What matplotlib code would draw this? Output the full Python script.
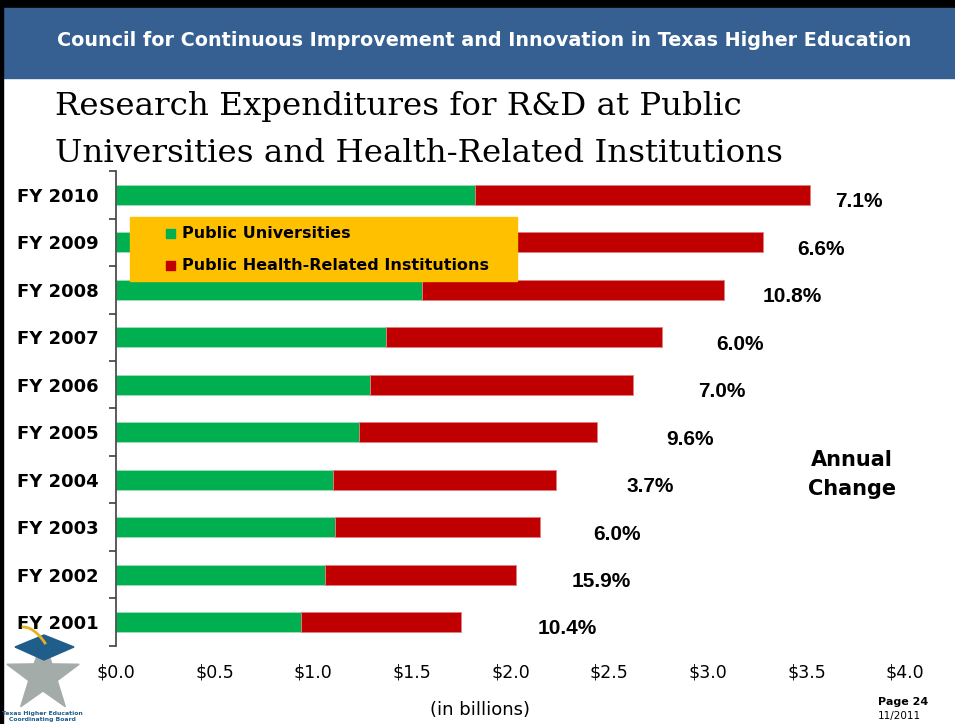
import matplotlib
matplotlib.use("Agg")
import matplotlib.pyplot as plt
from matplotlib.patches import Rectangle, Polygon
import numpy as np

# ---- data ----
years = ["FY 2010", "FY 2009", "FY 2008", "FY 2007", "FY 2006",
         "FY 2005", "FY 2004", "FY 2003", "FY 2002", "FY 2001"]
public_univ = [1.82, 1.70, 1.55, 1.37, 1.29, 1.23, 1.10, 1.11, 1.06, 0.94]
health_related = [1.70, 1.58, 1.53, 1.40, 1.33, 1.21, 1.13, 1.04, 0.97, 0.81]
annual_change = ["7.1%", "6.6%", "10.8%", "6.0%", "7.0%",
                 "9.6%", "3.7%", "6.0%", "15.9%", "10.4%"]
xticks = [0.0, 0.5, 1.0, 1.5, 2.0, 2.5, 3.0, 3.5, 4.0]
xtick_labels = ["$0.0", "$0.5", "$1.0", "$1.5", "$2.0", "$2.5", "$3.0", "$3.5", "$4.0"]

# label gap (pixels) from bar end, layout only
label_gap_px = [25, 34, 39, 54, 65, 69, 71, 53, 55, 76]

GREEN = "#00B050"
RED = "#C00000"
ORANGE = "#FFC000"
BLUE = "#366092"

W, H = 955, 724
fig = plt.figure(figsize=(W / 100, H / 100), dpi=100)
fig.patch.set_facecolor("white")

# chart axes
ax = fig.add_axes([116 / W, 1 - 645.7 / H, (905 - 116) / W, (645.7 - 171.3) / H])
ax.set_facecolor("none")
n = len(years)
ypos = np.arange(n)
ax.barh(ypos, public_univ, height=0.42, color=GREEN, edgecolor="#9FDFB8", linewidth=0.6, zorder=2)
ax.barh(ypos, health_related, left=public_univ, height=0.42, color=RED, edgecolor="#E08080", linewidth=0.6, zorder=2)
ax.set_ylim(n - 0.5, -0.5)
ax.set_xlim(0, 4.0)

for s in ["top", "right", "bottom"]:
    ax.spines[s].set_visible(False)
ax.spines["left"].set_color("#404040")
ax.spines["left"].set_linewidth(1.2)

ax.set_yticks(ypos)
ax.set_yticklabels(years, fontsize=13, fontweight="bold", family="DejaVu Sans", ha="left")
ax.tick_params(axis="y", which="major", length=0, pad=71)
ax.set_yticks(np.arange(-0.5, n, 1.0), minor=True)
ax.tick_params(axis="y", which="minor", length=5, width=1.2, color="#404040")

ax.set_xticks(xticks)
ax.set_xticklabels(xtick_labels, fontsize=12.5, family="DejaVu Sans")
ax.tick_params(axis="x", length=0, pad=13)

for i in range(n):
    total = public_univ[i] + health_related[i]
    ax.annotate(annual_change[i], xy=(total, ypos[i]), xytext=(label_gap_px[i] * 0.72, -5),
                textcoords="offset points", ha="left", va="center",
                fontsize=15, fontweight="bold", fontstretch="condensed",
                family=["Liberation Sans Narrow", "Liberation Sans", "DejaVu Sans"],
                color="black", zorder=3)

# overlay axes in pixel coordinates for slide decorations
ov = fig.add_axes([0, 0, 1, 1])
ov.set_xlim(0, W)
ov.set_ylim(H, 0)
ov.axis("off")
ov.set_zorder(5)

# header band and borders
ov.add_patch(Rectangle((0, 0), W, 8, color="black"))
ov.add_patch(Rectangle((0, 8), W, 70, color=BLUE))
ov.add_patch(Rectangle((0, 0), 3, H, color="black"))
ov.text(484, 40, "Council for Continuous Improvement and Innovation in Texas Higher Education",
        color="white", fontsize=13.8, fontweight="bold", ha="center", va="center",
        family="DejaVu Sans")

# title
ov.text(55, 106, "Research Expenditures for R&D at Public", fontsize=23.4,
        family="DejaVu Serif", ha="left", va="center", color="black")
ov.text(55, 154, "Universities and Health-Related Institutions", fontsize=23.4,
        family="DejaVu Serif", ha="left", va="center", color="black")

# legend box
ov.add_patch(Rectangle((130, 217), 387, 64, color=ORANGE, zorder=2))
ov.add_patch(Rectangle((166, 229), 9, 9, color=GREEN, zorder=3))
ov.text(182, 234, "Public Universities", fontsize=11.5, fontweight="bold",
        ha="left", va="center", zorder=3)
ov.add_patch(Rectangle((166, 261), 9, 9, color=RED, zorder=3))
ov.text(182, 265, "Public Health-Related Institutions", fontsize=11.5, fontweight="bold",
        ha="left", va="center", zorder=3)

# annual change note
ov.text(852, 460, "Annual", fontsize=15, fontweight="bold", ha="center", va="center")
ov.text(852, 489, "Change", fontsize=15, fontweight="bold", ha="center", va="center")

# axis caption
ov.text(480, 710, "(in billions)", fontsize=13, ha="center", va="center")

# page footer
ov.text(878, 702, "Page 24", fontsize=8, fontweight="bold", ha="left", va="center")
ov.text(878, 716, "11/2011", fontsize=7.5, ha="left", va="center")

# logo: star, mortarboard, tassel, text
cx, cy, R, r = 43, 676, 38, 15
pts = []
for k in range(10):
    ang = np.pi / 2 + k * np.pi / 5
    rad = R if k % 2 == 0 else r
    pts.append((cx + rad * np.cos(ang), cy - rad * np.sin(ang)))
ov.add_patch(Polygon(pts, closed=True, color="#A3ACA8", zorder=4))
ov.add_patch(Polygon([(15, 647), (44, 635), (74, 647), (44, 660)], closed=True,
                     color="#1F5D8A", zorder=5))
t = np.linspace(0, 1, 30)
ov.plot(23 + 22 * t, 627 + 16 * t ** 2, color="#E8B020", lw=2, zorder=6)
ov.text(42, 713, "Texas Higher Education", fontsize=4.4, fontweight="bold", color="#1F5D8A",
        ha="center", va="center", zorder=6)
ov.text(42, 720, "Coordinating Board", fontsize=4.4, fontweight="bold", color="#1F5D8A",
        ha="center", va="center", zorder=6)

fig.savefig("out.png", dpi=100, facecolor="white")
